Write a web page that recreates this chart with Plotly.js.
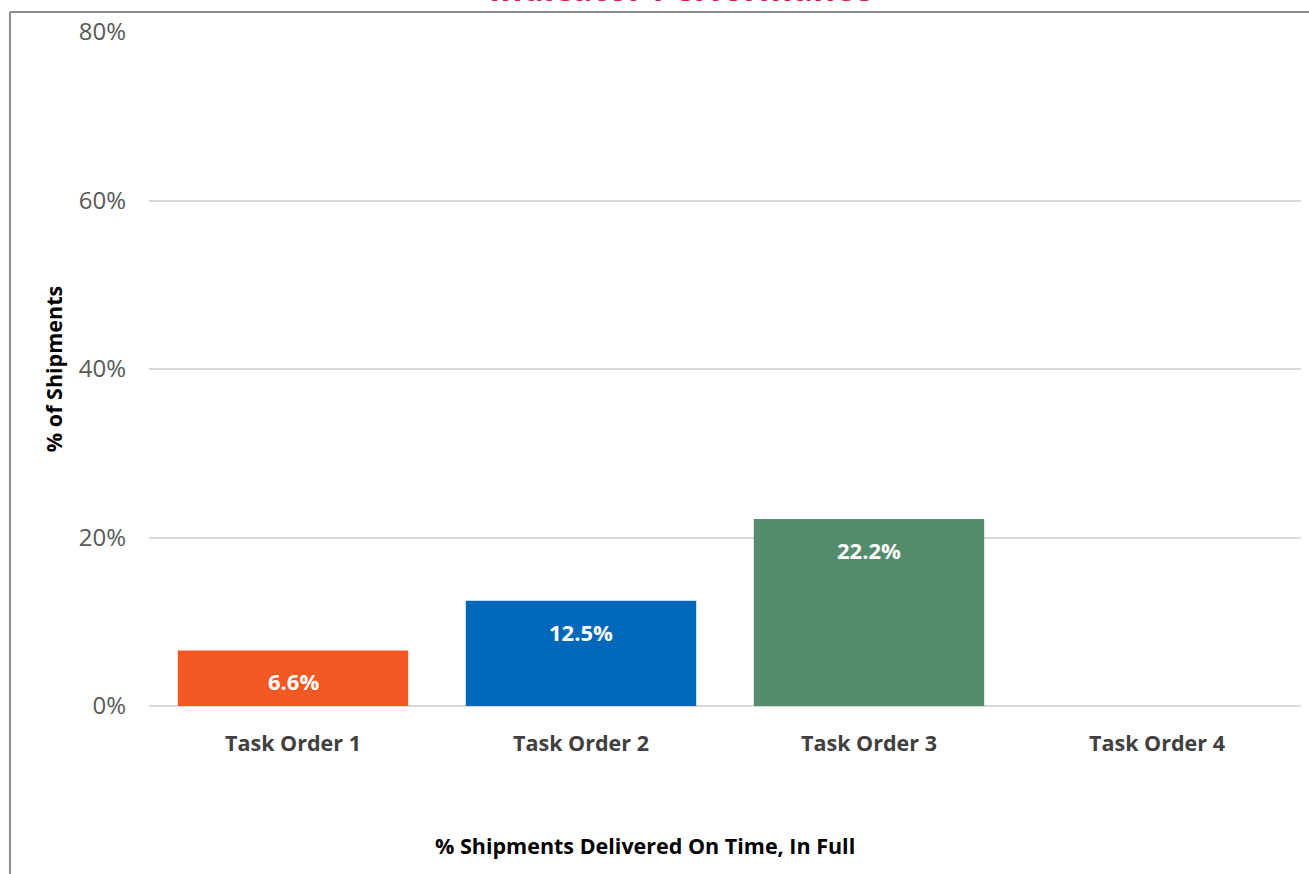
<!DOCTYPE html>
<html>
<head>
<meta charset="utf-8">
<script src="https://cdn.plot.ly/plotly-3.0.1.min.js"></script>
<style>html,body{margin:0;padding:0;background:#fff;}#chart{width:1309px;height:874px;}</style>
</head>
<body>
<div id="chart"></div>
<script>
const categories = ['Task Order 1', 'Task Order 2', 'Task Order 3', 'Task Order 4'];
const values = [0.066, 0.125, 0.222, null];
const barColors = ['#F25822', '#0068BA', '#548C6E', '#A5A5A5'];
const chartTitle = 'Indicator Performance';
const xTitle = '% Shipments Delivered On Time, In Full';
const yTitle = '% of Shipments';

const FONT = '"Open Sans", "Noto Sans", sans-serif';

const trace = {
  type: 'bar',
  x: categories,
  y: values,
  marker: {color: barColors},
  hoverinfo: 'none'
};

const annotations = [];
categories.forEach((c, i) => {
  if (values[i] !== null && values[i] !== undefined) {
    annotations.push({
      x: c, y: values[i], xref: 'x', yref: 'y',
      text: '<b>' + (values[i] * 100).toFixed(1) + '%</b>',
      showarrow: false, yanchor: 'middle', yshift: -31,
      font: {family: FONT, size: 22, color: '#FFFFFF'}
    });
  }
});
annotations.push({
  xref: 'paper', yref: 'paper', x: 0.4618, y: 1.028,
  xanchor: 'center', yanchor: 'bottom', showarrow: false,
  text: '<b>' + chartTitle + '</b>',
  font: {family: FONT, size: 34, color: '#D6204A'}
});
annotations.push({
  xref: 'paper', yref: 'paper', x: 0.4306, y: (706 - 845) / 674,
  xanchor: 'center', yanchor: 'middle', showarrow: false,
  text: '<b>' + xTitle + '</b>',
  font: {family: FONT, size: 21.5, color: '#000000'}
});

const layout = {
  width: 1309, height: 874,
  margin: {l: 149, r: 8, t: 32, b: 168},
  paper_bgcolor: '#FFFFFF', plot_bgcolor: '#FFFFFF',
  showlegend: false,
  bargap: 0.2,
  font: {family: FONT},
  xaxis: {
    type: 'category',
    showgrid: false, zeroline: false, showline: false,
    ticks: '', ticklabelstandoff: 22,
    tickfont: {family: FONT, size: 21.5, color: '#404040', weight: 'bold'},
    automargin: false, fixedrange: true
  },
  yaxis: {
    range: [0, 0.8], dtick: 0.2, tickformat: '.0%',
    showgrid: true, gridcolor: '#D9D9D9', gridwidth: 2,
    zeroline: true, zerolinecolor: '#D9D9D9', zerolinewidth: 2,
    showline: false, ticks: '', ticklabelstandoff: 22,
    tickfont: {family: FONT, size: 24, color: '#595959'},
    title: {text: '<b>' + yTitle + '</b>', standoff: 10,
            font: {family: FONT, size: 21.5, color: '#000000'}},
    automargin: false, fixedrange: true
  },
  annotations: annotations,
  shapes: [
    {type: 'line', xref: 'paper', yref: 'paper', x0: -0.1207, x1: -0.1207, y0: 1.0297, y1: -0.3,
     line: {color: '#8C8C8C', width: 2}},
    {type: 'line', xref: 'paper', yref: 'paper', x0: -0.1207, x1: 1.05, y0: 1.0297, y1: 1.0297,
     line: {color: '#8C8C8C', width: 2}}
  ]
};

Plotly.newPlot('chart', [trace], layout, {displayModeBar: false, staticPlot: true});
</script>
</body>
</html>
